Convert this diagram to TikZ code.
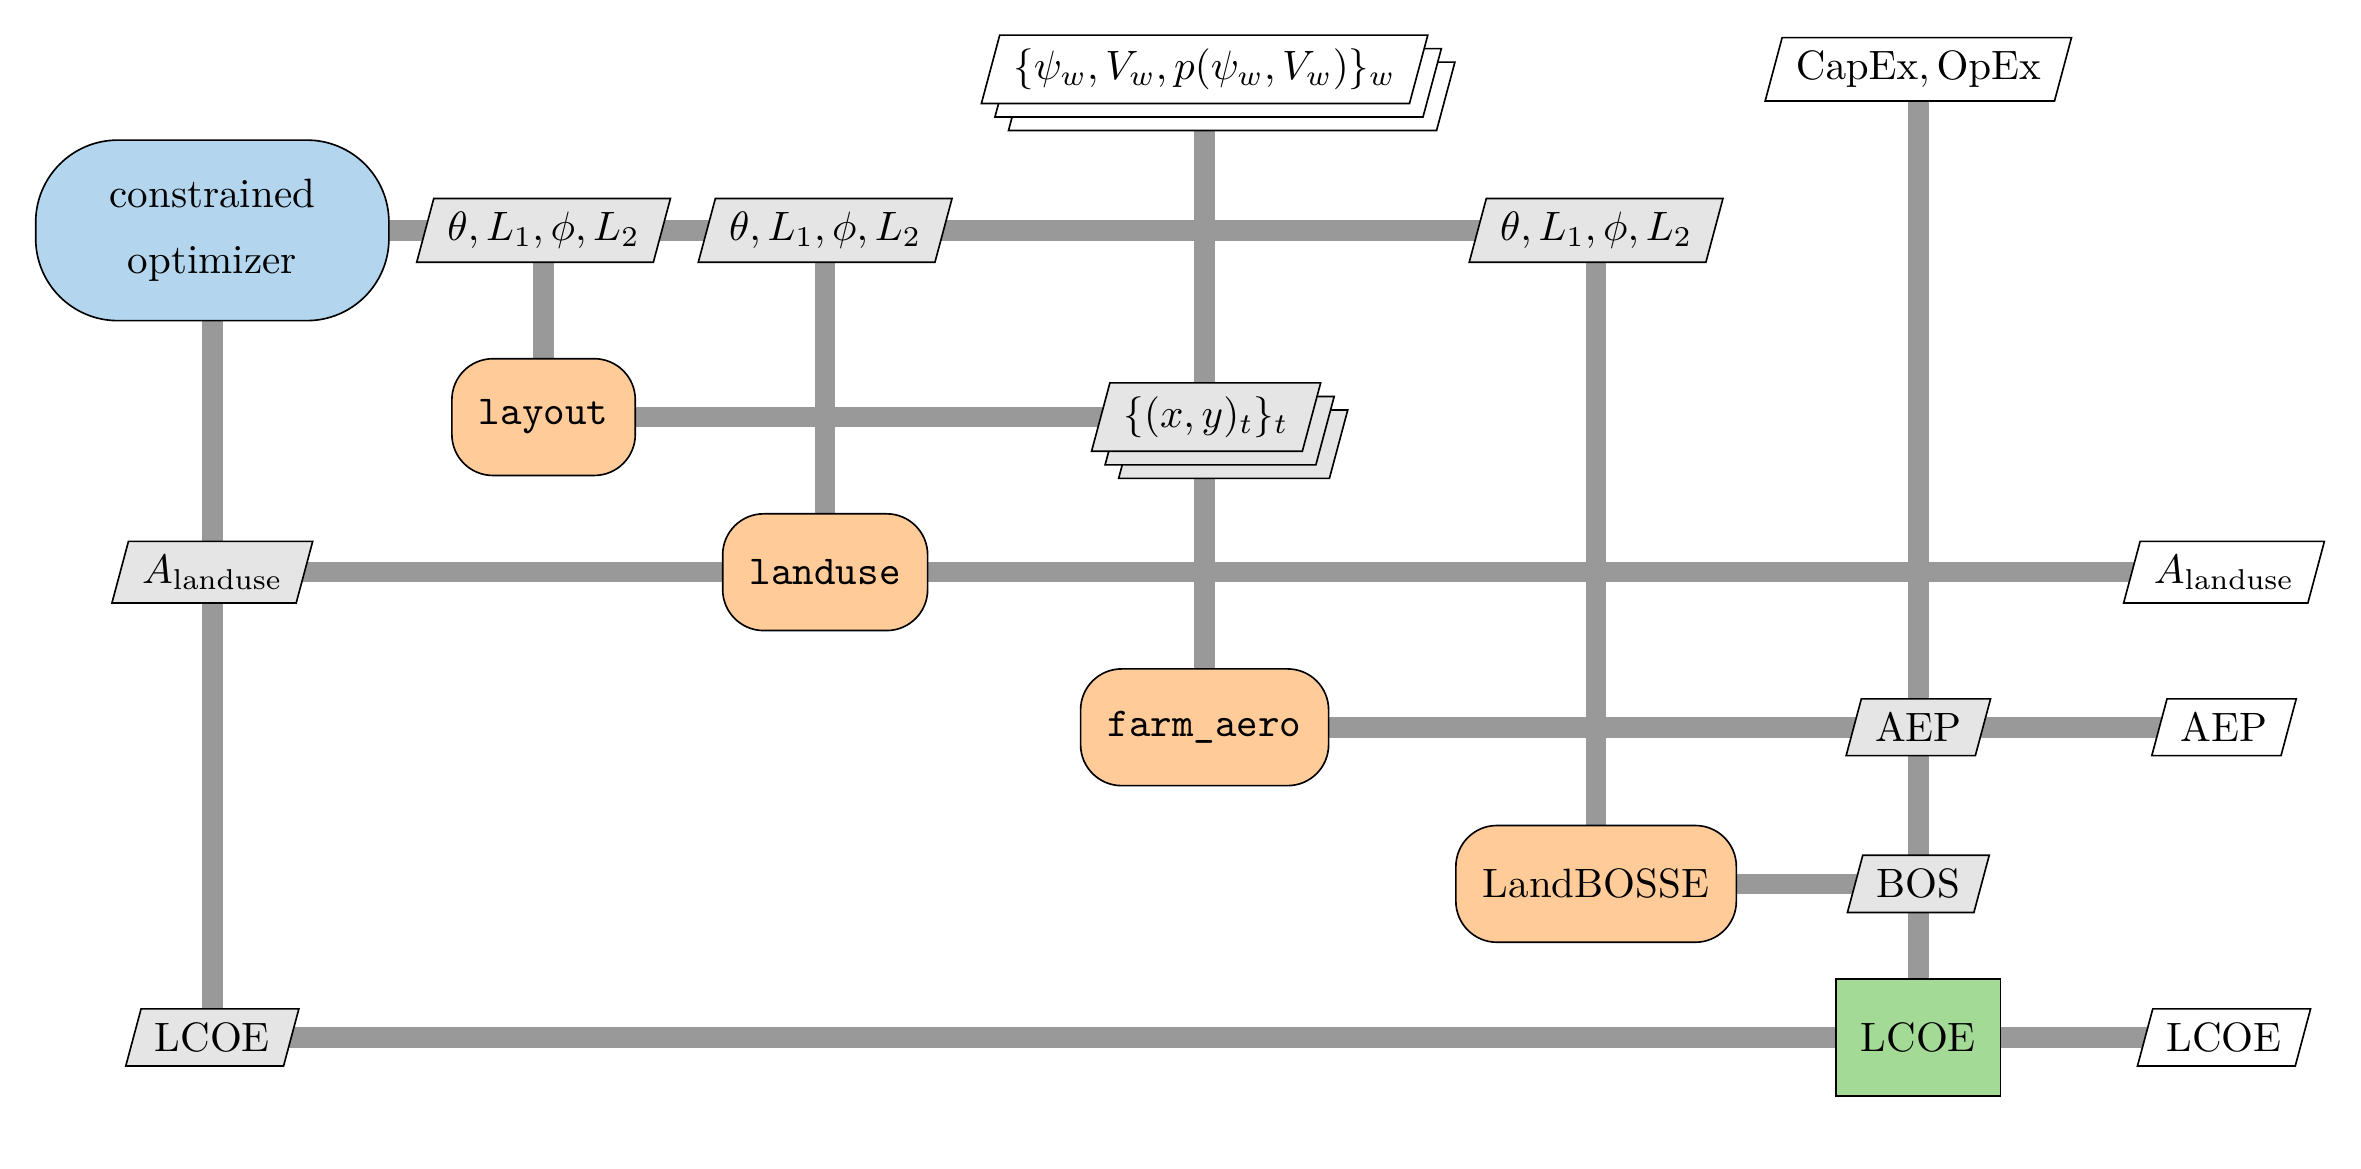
\documentclass[tikz,border=0pt]{standalone}
\usetikzlibrary{shapes.geometric,shadows}
\definecolor{optblue}{RGB}{179,214,238}
\definecolor{fnorange}{RGB}{255,204,153}
\definecolor{fngreen}{RGB}{162,218,150}
\pgfdeclarelayer{back}
\pgfsetlayers{back,main}
\begin{document}
\begin{tikzpicture}
  [x=0.367pt,y=-0.367pt]
  \tikzstyle{optbox} = [draw,fill=optblue,rounded corners=20pt,inner xsep=18pt,minimum height=44pt,align=center]
  \tikzstyle{fnbox} = [draw,fill=fnorange,rounded corners=10pt,inner xsep=6.6pt,minimum height=1cm]
  \tikzstyle{sumbox} = [draw,fill=fngreen,inner xsep=6pt,minimum height=1cm]
  \tikzstyle{databox} = [draw,fill=black!10,trapezium,trapezium left angle=75,trapezium right angle=105]
  \tikzstyle{iobox} = [databox,fill=white]
  \tikzstyle{iostack} = [iobox,copy shadow={shadow xshift=6.6pt,shadow yshift=-6.6pt,fill=white,draw=black},copy shadow={shadow xshift=3.3pt,shadow yshift=-3.3pt,fill=white,draw=black}]
  \tikzstyle{datastack} = [databox,copy shadow={shadow xshift=6.6pt,shadow yshift=-6.6pt,fill=black!10,draw=black},copy shadow={shadow xshift=3.3pt,shadow yshift=-3.3pt,fill=black!10,draw=black}]
  \tikzstyle{conn} = [draw=black!40,line width=5pt]
  \useasboundingbox (0,0) rectangle (1568,776);
  % inputs
  \node[iostack] (wind) at (800,46) {$\{\psi_w, V_w, p(\psi_w, V_w)\}_w$};
  \node[iobox] (cost) at (1274,46) {$\mathrm{CapEx}, \mathrm{OpEx}$};
  % diagonal
  \node[optbox] (opt) at (141,153) {constrained\\[4pt]optimizer};
  \node[fnbox] (layout) at (361,277) {\texttt{layout}};
  \node[fnbox] (landuse) at (548,380) {\texttt{landuse}};
  \node[fnbox] (farm) at (800,483) {\texttt{farm\_aero}};
  \node[fnbox] (bosse) at (1060,587) {LandBOSSE};
  \node[sumbox] (lcoe) at (1274,689) {LCOE};
  % data
  \node[databox] (dv2) at (361,153) {$\theta, L_1, \phi, L_2$};
  \node[databox] (dv3) at (548,153) {$\theta, L_1, \phi, L_2$};
  \node[databox] (dv5) at (1060,153) {$\theta, L_1, \phi, L_2$};
  \node[datastack] (xy) at (801,277) {$\{(x,y)_t\}_t$};
  \node[databox] (areaopt) at (141,380) {$A_\mathrm{landuse}$};
  \node[databox] (aep) at (1274,483) {AEP};
  \node[databox] (bos) at (1274,587) {BOS};
  \node[databox] (lcoeopt) at (141,689) {LCOE};
  % outputs
  \node[iobox] (areaout) at (1477,380) {$A_\mathrm{landuse}$};
  \node[iobox] (aepout) at (1477,483) {AEP};
  \node[iobox] (lcoeout) at (1477,689) {LCOE};
  \begin{pgfonlayer}{back}
  \foreach \src/\dst in {opt/dv5,dv2/layout,dv3/landuse,dv5/bosse,wind/farm,cost/lcoe,
      layout/xy,opt/lcoeopt,areaopt/areaout,farm/aepout,bosse/bos,lcoeopt/lcoeout}
    \draw[conn] (\src.center) -- (\dst.center);
  \end{pgfonlayer}
\end{tikzpicture}
\end{document}
